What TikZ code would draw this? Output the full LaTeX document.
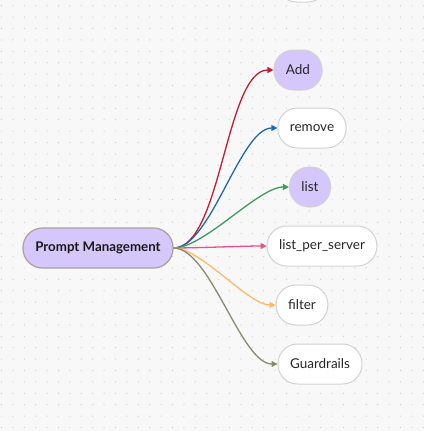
\documentclass[tikz,border=0pt]{standalone}
\usepackage{fontspec}
\setmainfont{Lato}
\usetikzlibrary{positioning, arrows.meta}

\definecolor{bgcol}{HTML}{F8F8F8}
\definecolor{dotcol}{HTML}{C9C9C9}
\definecolor{lav}{HTML}{D5C6FB}
\definecolor{leafline}{HTML}{D2D2D2}
\definecolor{rootline}{HTML}{A8A29C}
\definecolor{cred}{HTML}{C81A2C}
\definecolor{cblue}{HTML}{1F6AAE}
\definecolor{cgreen}{HTML}{3E9B5C}
\definecolor{cpink}{HTML}{E8528C}
\definecolor{corange}{HTML}{FFB866}
\definecolor{colive}{HTML}{8A8A6A}

\begin{document}
\begin{tikzpicture}[
  x=1pt, y=-1pt,
  leaf/.style={rectangle, draw=leafline, line width=1pt, fill=white, rounded corners=19.5pt, minimum height=40pt, inner xsep=12pt, font=\fontsize{13.5}{15}\selectfont, text=black!85},
  pick/.style={leaf, fill=lav},
  root/.style={rectangle, draw=rootline, line width=1.2pt, fill=lav, rounded corners=19.5pt, minimum height=40pt, minimum width=150pt, font=\fontsize{13.3}{15}\selectfont\bfseries, text=black!90},
  arr/.style={-{Triangle[length=6pt, width=6pt]}, line width=1.3pt},
]
  % canvas
  \useasboundingbox (0,0) rectangle (424,431);
  \fill[bgcol] (0,0) rectangle (424,431);
  \foreach \i in {0,...,37}
    \foreach \j in {0,...,37}
      \fill[dotcol] (1.5+11.4*\i, 5.7+11.4*\j) circle (0.6);

  \begin{scope}
    \clip (0,0) rectangle (424,431);
    \node[leaf, minimum width=50pt] (prev) at (302,-18) {};
  \end{scope}

  \node[root] (pm) at (98,248) {Prompt Management};

  \node[pick] (add) at (298,70) {Add};
  \node[leaf] (remove) at (312,128) {remove};
  \node[pick, minimum width=41pt] (list) at (310,187) {list};
  \node[leaf] (lps) at (322,246) {list\_per\_server};
  \node[leaf] (filter) at (302,305) {filter};
  \node[leaf] (guard) at (320,364) {Guardrails};

  \draw[arr, cred] (pm.east) to[out=0, in=180, looseness=0.6] (add.west);
  \draw[arr, cblue] (pm.east) to[out=0, in=180, looseness=0.6] (remove.west);
  \draw[arr, cgreen] (pm.east) to[out=0, in=180, looseness=0.6] (list.west);
  \draw[arr, cpink] (pm.east) to[out=0, in=180, looseness=0.6] (lps.west);
  \draw[arr, corange] (pm.east) to[out=0, in=180, looseness=0.6] (filter.west);
  \draw[arr, colive] (pm.east) to[out=0, in=180, looseness=0.6] (guard.west);
\end{tikzpicture}
\end{document}
